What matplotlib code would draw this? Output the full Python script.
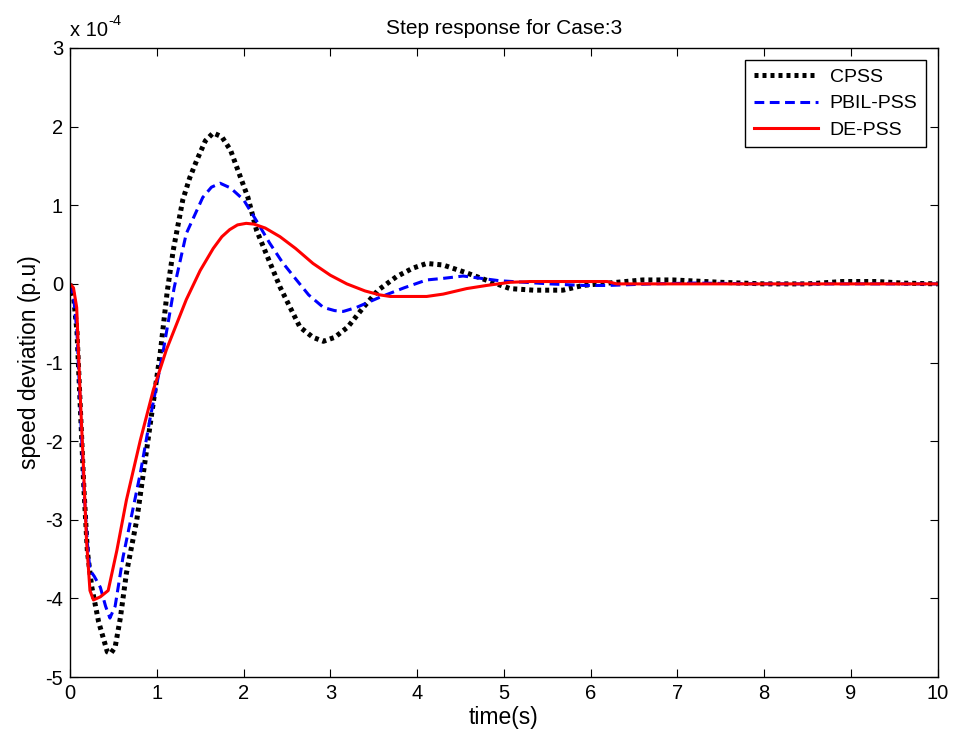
import matplotlib
matplotlib.use("Agg")
import matplotlib.pyplot as plt
import numpy as np

plt.rcParams["font.family"] = ["Liberation Sans", "DejaVu Sans"]
plt.rcParams["axes.unicode_minus"] = False

# values, in units of 1e-4 p.u.
t_cpss = [0, 0.04, 0.08, 0.12, 0.16, 0.2, 0.25, 0.33, 0.43, 0.47, 0.52, 0.58, 0.65, 0.77,
          0.92, 1.04, 1.12, 1.19, 1.3, 1.38, 1.46, 1.56, 1.65, 1.75, 1.85, 1.92, 2.05,
          2.15, 2.3, 2.42, 2.55, 2.65, 2.8, 2.92, 3.05, 3.2, 3.38, 3.55, 3.76, 3.95,
          4.11, 4.3, 4.57, 4.84, 5.07, 5.34, 5.68, 5.91, 6.3, 6.6, 6.95, 7.5, 8.0, 8.5,
          8.9, 9.3, 9.6, 10]
y_cpss = [0, -0.15, -0.6, -1.6, -2.6, -3.4, -3.85, -4.3, -4.68, -4.7, -4.62, -4.25, -3.68,
          -3.0, -1.82, -0.88, -0.1, 0.43, 1.07, 1.35, 1.57, 1.82, 1.92, 1.87, 1.7, 1.49,
          1.1, 0.68, 0.28, -0.04, -0.33, -0.55, -0.68, -0.73, -0.68, -0.55, -0.3, -0.08,
          0.09, 0.2, 0.26, 0.24, 0.14, 0.03, -0.06, -0.08, -0.08, -0.02, 0.02, 0.05, 0.05,
          0.02, 0.0, 0.0, 0.03, 0.03, 0.01, 0.0]

t_pbil = [0, 0.04, 0.08, 0.12, 0.16, 0.2, 0.23, 0.28, 0.35, 0.41, 0.46, 0.52, 0.61, 0.81,
          0.92, 1.07, 1.2, 1.34, 1.53, 1.63, 1.73, 1.85, 2.0, 2.15, 2.3, 2.45, 2.61,
          2.75, 2.92, 3.05, 3.15, 3.3, 3.57, 3.85, 4.11, 4.3, 4.53, 4.95, 5.53, 5.91,
          6.2, 6.7, 7.2, 8.0, 9.0, 10]
y_pbil = [0, -0.15, -0.6, -1.6, -2.6, -3.3, -3.64, -3.72, -3.86, -4.1, -4.25, -4.1, -3.48,
          -2.41, -1.73, -0.88, -0.05, 0.64, 1.1, 1.23, 1.28, 1.22, 1.07, 0.8, 0.52, 0.27,
          0.05, -0.14, -0.3, -0.34, -0.35, -0.3, -0.17, -0.05, 0.05, 0.07, 0.1, 0.04, 0.0,
          -0.02, -0.02, 0.0, 0.01, 0.0, 0.0, 0.0]

t_de = [0, 0.04, 0.077, 0.115, 0.15, 0.19, 0.23, 0.27, 0.35, 0.44, 0.54, 0.65, 0.81,
        0.96, 1.11, 1.34, 1.5, 1.65, 1.75, 1.84, 1.93, 2.03, 2.12, 2.25, 2.42, 2.6,
        2.8, 3.0, 3.19, 3.4, 3.57, 3.69, 4.11, 4.3, 4.57, 4.8, 5.07, 5.3, 6.19, 6.3,
        7.0, 8.0, 9.0, 10]
y_de = [0, -0.05, -0.3, -1.35, -2.2, -3.26, -3.9, -4.02, -3.98, -3.9, -3.39, -2.75,
        -1.99, -1.35, -0.84, -0.2, 0.17, 0.45, 0.6, 0.69, 0.75, 0.77, 0.76, 0.71, 0.6,
        0.45, 0.26, 0.11, 0.0, -0.09, -0.14, -0.16, -0.16, -0.13, -0.06, -0.02, 0.02,
        0.03, 0.03, 0.0, 0.0, 0.0, 0.0, 0.0]

fig = plt.figure(figsize=(9.55, 7.43), dpi=100)
ax = fig.add_axes([0.0733, 0.0888, 0.9087, 0.8466])

ax.plot(t_cpss, y_cpss, color="black", linestyle=(0, (0.8, 0.8)), linewidth=3.6, label="CPSS")
ax.plot(t_pbil, y_pbil, color="blue", linestyle=(0, (3.2, 1.8)), linewidth=2.2, label="PBIL-PSS")
ax.plot(t_de, y_de, color="red", linestyle="-", linewidth=2.2, label="DE-PSS")

ax.set_xlim(0, 10)
ax.set_ylim(-5, 3)
ax.set_xticks(np.arange(0, 11, 1))
ax.set_yticks(np.arange(-5, 4, 1))
ax.tick_params(direction="in", top=True, right=True, labelsize=14.5, length=6, width=0.8,
               pad=5)
for s in ax.spines.values():
    s.set_linewidth(1.0)

ax.set_xlabel("time(s)", fontsize=16.5, labelpad=2)
ax.set_ylabel("speed deviation (p.u)", fontsize=16.5, labelpad=3)
ax.set_title("Step response for Case:3", fontsize=15, pad=10)

# MATLAB-style exponent label
ax.text(0.0, 1.012, "x 10", transform=ax.transAxes, fontsize=14.5, ha="left", va="bottom")
ax.text(0.044, 1.032, "-4", transform=ax.transAxes, fontsize=10.5, ha="left", va="bottom")

leg = ax.legend(loc="upper right", fontsize=14, fancybox=False, framealpha=1,
                edgecolor="black", borderaxespad=0.6, handlelength=3.3,
                borderpad=0.45, labelspacing=0.45, handletextpad=0.6)
leg.get_frame().set_linewidth(1.0)

fig.savefig("out.png", dpi=100)
